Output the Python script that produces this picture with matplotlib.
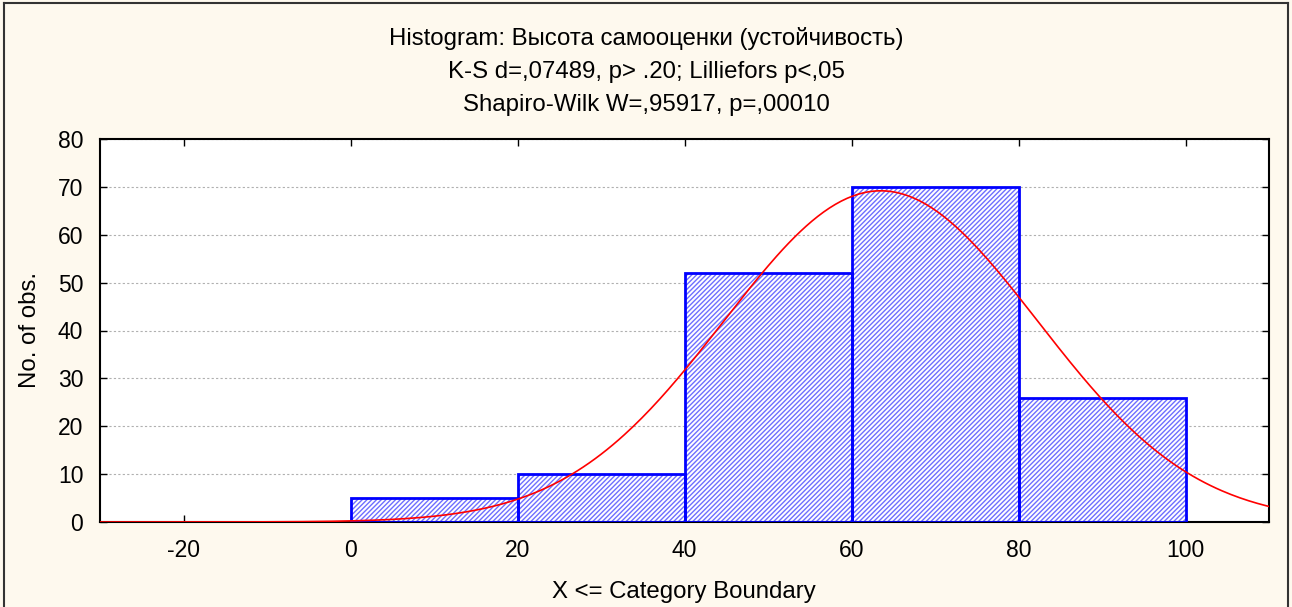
import numpy as np
import matplotlib.pyplot as plt
import matplotlib as mpl
from matplotlib.lines import Line2D

plt.rcParams['font.family'] = ['Liberation Sans', 'DejaVu Sans']
mpl.rcParams['hatch.linewidth'] = 1.0
mpl.rcParams['axes.unicode_minus'] = False

# histogram data (category boundaries and counts)
bin_left = [0, 20, 40, 60, 80]
bin_width = 20
counts = [5, 10, 52, 70, 26]

# fitted normal curve parameters
fit_mean = 63.5
fit_sd = 18.8
n_obs = sum(counts)

title_lines = ["Histogram: Высота самооценки (устойчивость)",
               "K-S d=,07489, p> .20; Lilliefors p<,05",
               "Shapiro-Wilk W=,95917, p=,00010"]

bg = '#fef9ee'
fig = plt.figure(figsize=(12.92, 6.07), dpi=100, facecolor=bg)
ax = fig.add_axes([100/1292, 1-522/607, 1169/1292, 383/607])
ax.set_facecolor('white')

# bars: hatch pass, then outline pass
ax.bar(bin_left, counts, width=bin_width, align='edge', facecolor='white',
       edgecolor='#6f6fff', hatch='///////', linewidth=0, zorder=2)
ax.bar(bin_left, counts, width=bin_width, align='edge', facecolor='none',
       edgecolor='#0000ff', linewidth=2, zorder=3)

xs = np.linspace(-30, 110, 400)
ys = n_obs * bin_width / (fit_sd * np.sqrt(2*np.pi)) * np.exp(-0.5*((xs-fit_mean)/fit_sd)**2)
ax.plot(xs, ys, color='red', linewidth=1.2, zorder=4)

ax.set_xlim(-30, 110)
ax.set_ylim(0, 80)
ax.set_xticks([-20, 0, 20, 40, 60, 80, 100])
ax.set_yticks(range(0, 81, 10))
ax.yaxis.grid(True, color='#b0b0b0', linestyle=(0, (2, 2)), linewidth=0.8)
ax.set_axisbelow(True)
ax.tick_params(direction='in', top=True, right=True, length=5, width=1,
               labelsize=16.5)
ax.tick_params(axis='x', pad=12)
ax.tick_params(axis='y', pad=12)
for s in ax.spines.values():
    s.set_linewidth(1.5)
    s.set_color('black')

ax.set_ylabel('No. of obs.', fontsize=17.3, labelpad=12)
fig.text(684/1292, 1 - 592/607, 'X <= Category Boundary', ha='center',
         va='center', fontsize=17.3)

for i, t in enumerate(title_lines):
    fig.text(0.5, 1 - (39 + 33*i)/607, t, ha='center', va='center', fontsize=17.3)

# figure frame
for xy in [([4, 4], [0, 604]), ([4, 1288], [604, 604]), ([1288, 1288], [604, 0])]:
    fig.add_artist(Line2D(np.array(xy[0])/1292, np.array(xy[1])/607,
                          color='#333333', linewidth=1.5))

fig.savefig('out.png', dpi=100, facecolor=bg)
